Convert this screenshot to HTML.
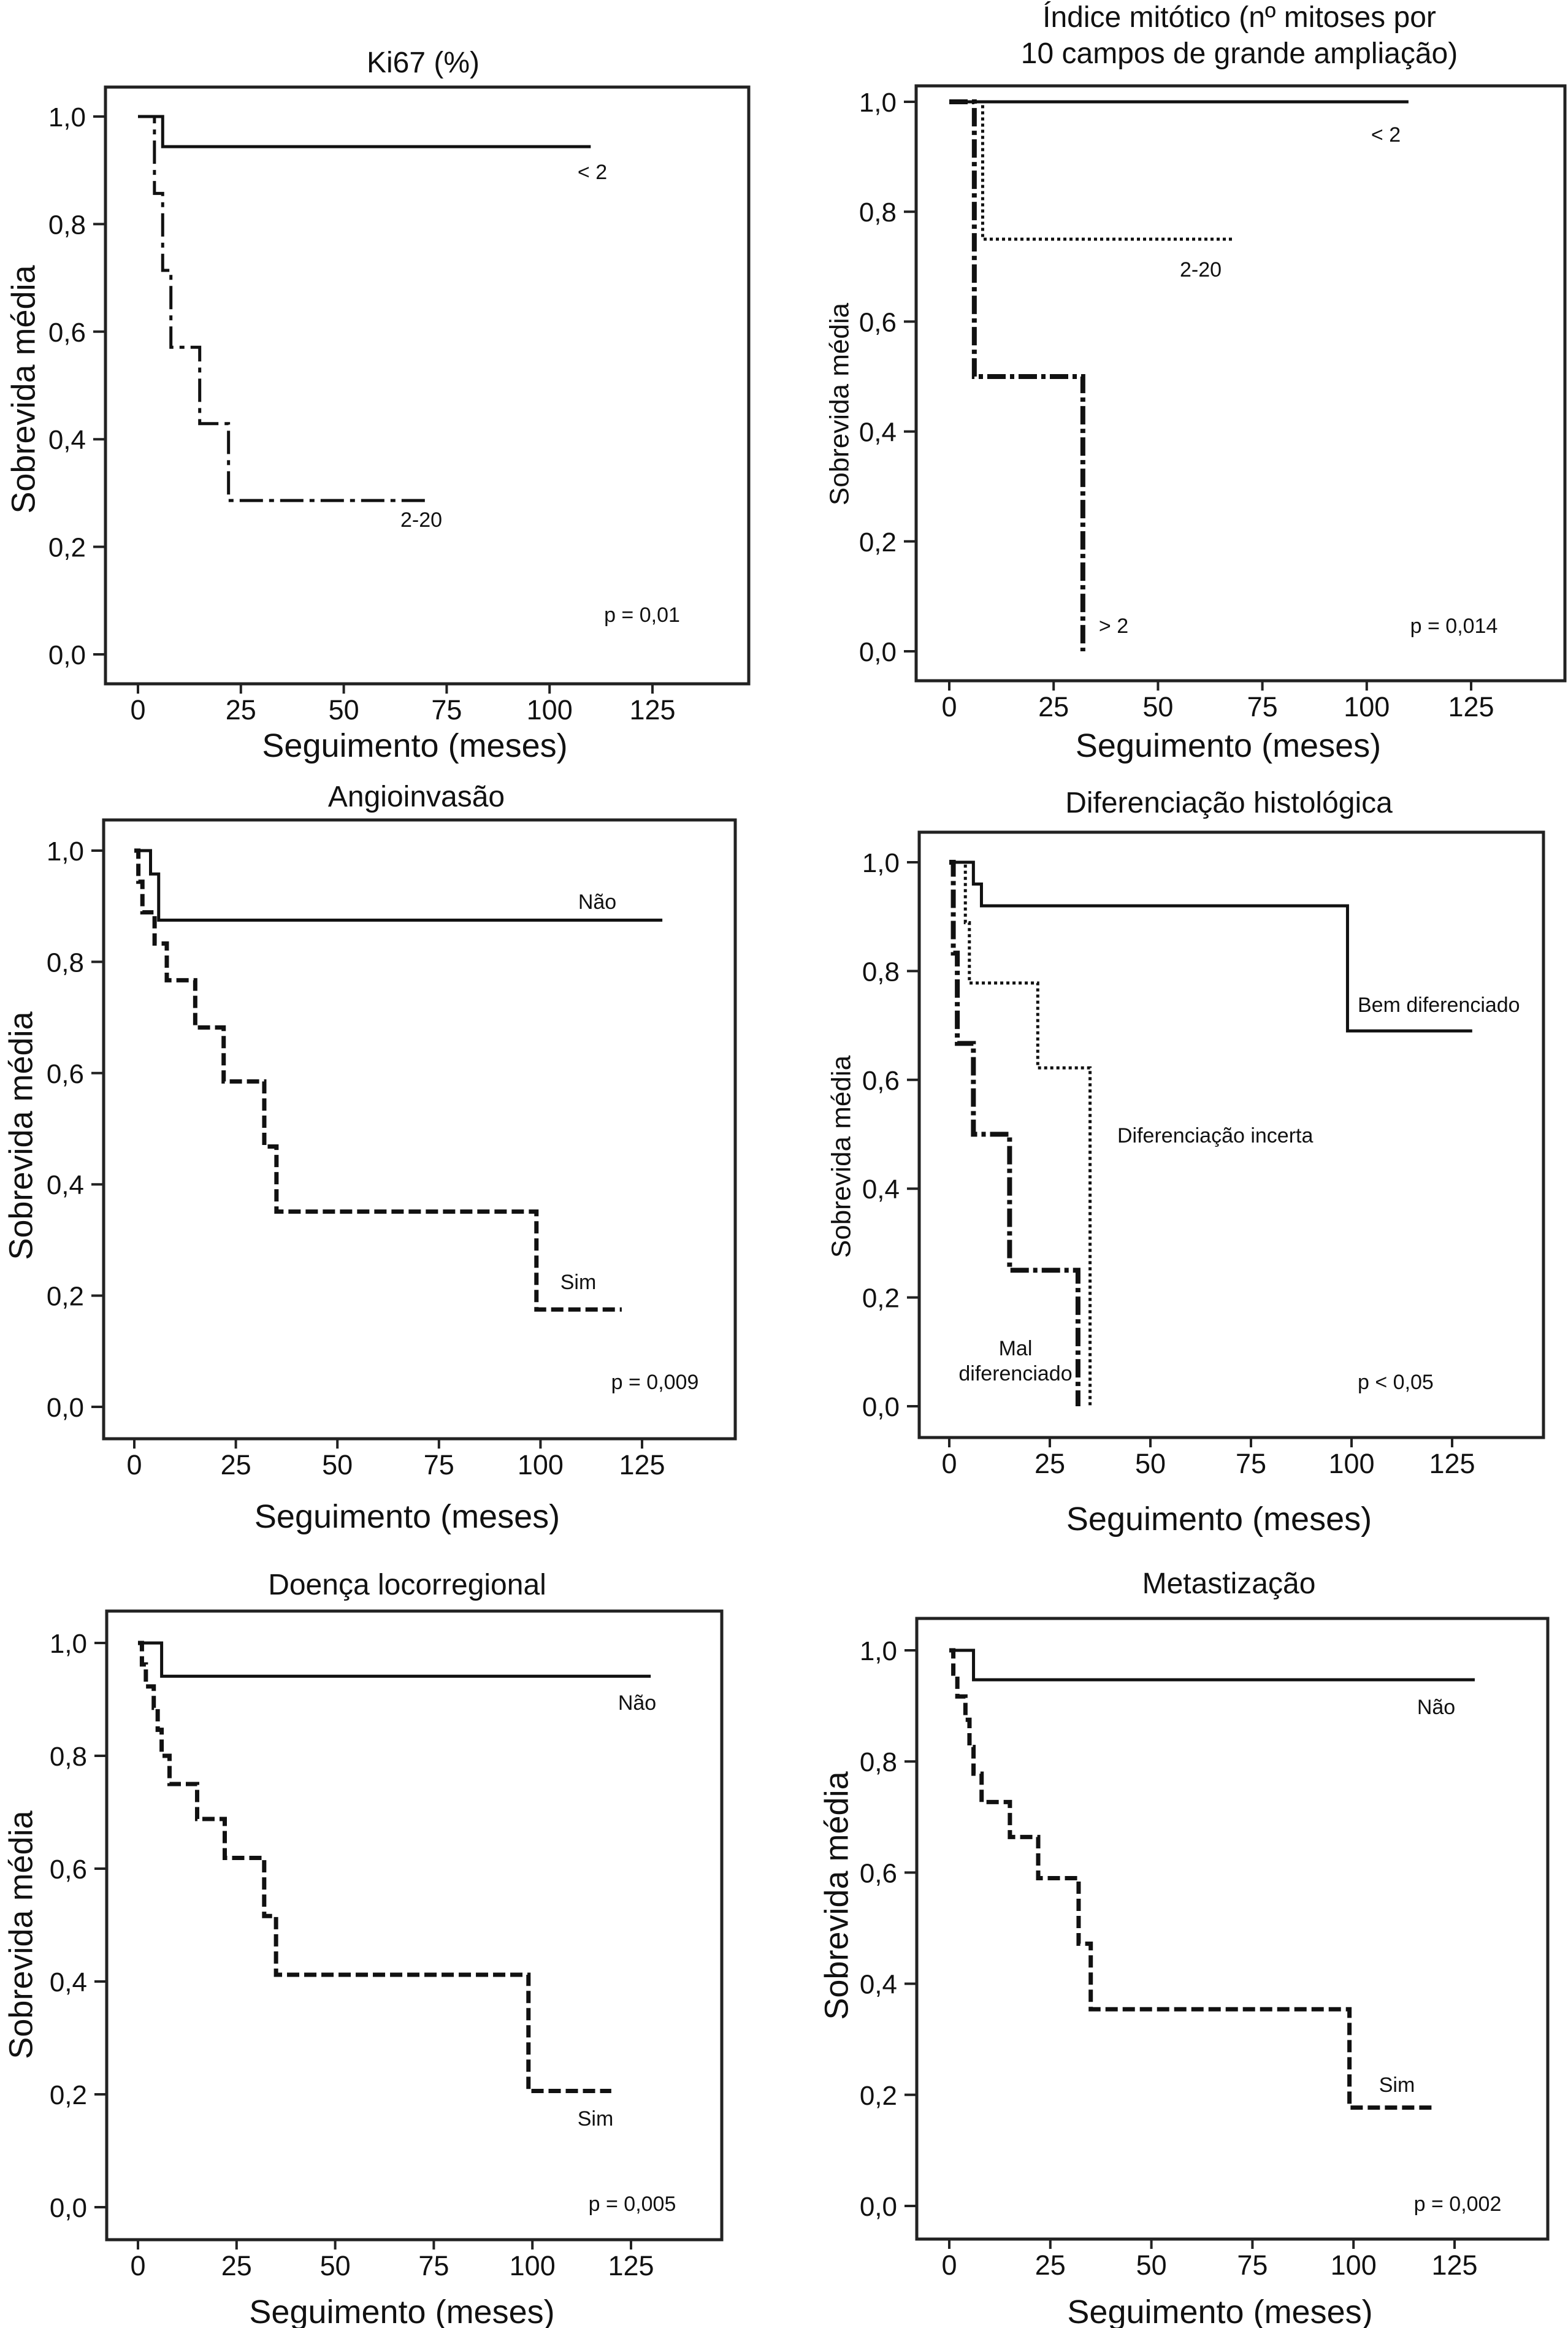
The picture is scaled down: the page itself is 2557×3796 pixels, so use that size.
<!DOCTYPE html>
<html><head><meta charset="utf-8"><style>
html,body{margin:0;padding:0;background:#fff}
svg{display:block}
text{font-family:"Liberation Sans",Arial,sans-serif;fill:#111}
</style></head><body>
<svg id="fig" width="2557" height="3796" viewBox="0 0 2557 3796" xmlns="http://www.w3.org/2000/svg"></svg>
<script>
// ---- data (months, survival) ----
const xTicks = [0,25,50,75,100,125];
const yTicks = [0,0.2,0.4,0.6,0.8,1.0];
const yTickLabels = ["0,0","0,2","0,4","0,6","0,8","1,0"];

const p1LowT = [0,6,110];            const p1LowS = [1.0,0.944,0.944];
const p1MidT = [0,4,6,8,15,22,71];   const p1MidS = [1.0,0.857,0.714,0.571,0.429,0.286,0.286];

const p2LowT = [0,110];              const p2LowS = [1.0,1.0];
const p2MidT = [0,8,68];             const p2MidS = [1.0,0.75,0.75];
const p2HighT = [0,6,32];            const p2HighS = [1.0,0.5,0.0];

const p3NaoT = [0,4,6,130];          const p3NaoS = [1.0,0.958,0.875,0.875];
const p3SimT = [0,1,2,5,8,15,22,32,35,99,120];
const p3SimS = [1.0,0.944,0.889,0.833,0.767,0.682,0.585,0.468,0.351,0.175,0.175];

const p4BemT = [0,6,8,99,130];       const p4BemS = [1.0,0.96,0.92,0.69,0.69];
const p4IncT = [0,4,5,22,35];        const p4IncS = [1.0,0.889,0.778,0.622,0.0];
const p4MalT = [0,1,2,6,15,32];      const p4MalS = [1.0,0.833,0.667,0.5,0.25,0.0];

const p5NaoT = [0,6,130];            const p5NaoS = [1.0,0.941,0.941];
const p5SimT = [0,1,2,4,5,6,8,15,22,32,35,99,120];
const p5SimS = [1.0,0.962,0.923,0.885,0.846,0.8,0.75,0.688,0.619,0.516,0.412,0.206,0.206];

const p6NaoT = [0,6,130];            const p6NaoS = [1.0,0.947,0.947];
const p6SimT = [0,1,2,4,5,6,8,15,22,32,35,99,120];
const p6SimS = [1.0,0.958,0.917,0.875,0.826,0.778,0.727,0.664,0.59,0.472,0.354,0.177,0.177];

const NS="http://www.w3.org/2000/svg";
const svg=document.getElementById('fig');
function el(tag,attrs,parent,txt){const e=document.createElementNS(NS,tag);for(const k in attrs)e.setAttribute(k,attrs[k]);if(txt!==undefined)e.textContent=txt;(parent||svg).appendChild(e);return e;}

const SOLID={w:5,d:null}, DASHDOT={w:5,d:"38 10 8 10"}, DOT={w:5,d:"5 5"}, HEAVYDD={w:8,d:"30 7 7 7"}, DASH={w:7,d:"20 8"};

const panels=[
 {name:"ki67",L:172,R:1221,T:142,B:1115,x0:225,x125:1064,y1:190,y0:1067,
  title:["Ki67 (%)"],tx:690,ty:[118],ytx:42,yty:635,yfs:54,xtb:1234,
  series:[[p1LowT,p1LowS,SOLID,"series-lt2"],[p1MidT,p1MidS,DASHDOT,"series-2-20"]],
  labels:[["< 2",966,292,"middle"],["2-20",687,859,"middle"],["p = 0,01",1047,1014,"middle"]]},
 {name:"indice-mitotico",L:1494,R:2552,T:140,B:1110,x0:1548,x125:2399,y1:166,y0:1062,
  title:["Índice mitótico (nº mitoses por","10 campos de grande ampliação)"],tx:2021,ty:[44,103],ytx:1372,yty:659,yfs:44,xtb:1234,
  series:[[p2LowT,p2LowS,SOLID,"series-lt2"],[p2MidT,p2MidS,DOT,"series-2-20"],[p2HighT,p2HighS,HEAVYDD,"series-gt2"]],
  labels:[["< 2",2260,231,"middle"],["2-20",1958,451,"middle"],["> 2",1816,1032,"middle"],["p = 0,014",2371,1032,"middle"]]},
 {name:"angioinvasao",L:169,R:1199,T:1337,B:2346,x0:219,x125:1047,y1:1387,y0:2294,
  title:["Angioinvasão"],tx:679,ty:[1315],ytx:38,yty:1852,yfs:54,xtb:2491,
  series:[[p3NaoT,p3NaoS,SOLID,"series-nao"],[p3SimT,p3SimS,DASH,"series-sim"]],
  labels:[["Não",974,1482,"middle"],["Sim",943,2102,"middle"],["p = 0,009",1068,2265,"middle"]]},
 {name:"diferenciacao",L:1499,R:2517,T:1357,B:2344,x0:1548,x125:2368,y1:1406,y0:2293,
  title:["Diferenciação histológica"],tx:2004,ty:[1325],ytx:1375,yty:1886,yfs:44,xtb:2495,
  series:[[p4BemT,p4BemS,SOLID,"series-bem"],[p4IncT,p4IncS,DOT,"series-incerta"],[p4MalT,p4MalS,HEAVYDD,"series-mal"]],
  labels:[["Bem diferenciado",2214,1650,"start"],["Diferenciação incerta",1822,1863,"start"],["Mal",1656,2210,"middle"],["diferenciado",1656,2251,"middle"],["p < 0,05",2214,2265,"start"]]},
 {name:"doenca-locorregional",L:174,R:1177,T:2627,B:3652,x0:225,x125:1029,y1:2679,y0:3599,
  title:["Doença locorregional"],tx:664,ty:[2600],ytx:38,yty:3155,yfs:54,xtb:3788,
  series:[[p5NaoT,p5NaoS,SOLID,"series-nao"],[p5SimT,p5SimS,DASH,"series-sim"]],
  labels:[["Não",1039,2788,"middle"],["Sim",971,3466,"middle"],["p = 0,005",1031,3605,"middle"]]},
 {name:"metastizacao",L:1495,R:2524,T:2639,B:3651,x0:1548,x125:2372,y1:2691,y0:3597,
  title:["Metastização"],tx:2004,ty:[2598],ytx:1368,yty:3091,yfs:54,xtb:3788,
  series:[[p6NaoT,p6NaoS,SOLID,"series-nao"],[p6SimT,p6SimS,DASH,"series-sim"]],
  labels:[["Não",2342,2795,"middle"],["Sim",2278,3411,"middle"],["p = 0,002",2377,3605,"middle"]]}
];

panels.forEach(p=>{
  const g=el('g',{});
  
  
  const xs=v=>p.x0+(p.x125-p.x0)*v/125;
  const ys=v=>p.y0+(p.y1-p.y0)*v;
  p.title.forEach((t,i)=>{
    const e=el('text',{x:p.tx,y:p.ty[i],'text-anchor':'middle','font-size':48},g,t);
    
    
  });
  const fr=el('rect',{x:p.L,y:p.T,width:p.R-p.L,height:p.B-p.T,fill:'none',stroke:'#222','stroke-width':5},g);
  
  
  yTicks.forEach((v,i)=>{
    const y=ys(v);
    const t=el('line',{x1:p.L-20,x2:p.L,y1:y,y2:y,stroke:'#222','stroke-width':4},g);
    
    
    const l=el('text',{x:p.L-32,y:y+16,'text-anchor':'end','font-size':44},g,yTickLabels[i]);
    
    
  });
  xTicks.forEach(v=>{
    const x=xs(v);
    const t=el('line',{x1:x,x2:x,y1:p.B,y2:p.B+16,stroke:'#222','stroke-width':4},g);
    
    
    const l=el('text',{x:x,y:p.B+58,'text-anchor':'middle','font-size':45},g,String(v));
    
    
  });
  const xt=el('text',{x:(p.L+p.R)/2-20,y:p.xtb,'text-anchor':'middle','font-size':54},g,'Seguimento (meses)');
  
  
  const yt=el('text',{x:p.ytx,y:p.yty,'text-anchor':'middle','font-size':p.yfs,transform:`rotate(-90 ${p.ytx} ${p.yty})`,'dominant-baseline':'middle'},g,'Sobrevida média');
  
  
  p.series.forEach(s=>{
    const [T,S,st,nm]=s;
    let d=`M${xs(T[0])},${ys(S[0])}`;
    for(let i=1;i<T.length;i++){d+=` H${xs(T[i])} V${ys(S[i])}`;}
    const a={d:d,fill:'none',stroke:'#111','stroke-width':st.w};
    if(st.d)a['stroke-dasharray']=st.d;
    const e=el('path',a,g);
    
    
  });
  p.labels.forEach(lb=>{
    const e=el('text',{x:lb[1],y:lb[2],'text-anchor':lb[3],'font-size':34},g,lb[0]);
    
    
  });
});
</script>
</body></html>
